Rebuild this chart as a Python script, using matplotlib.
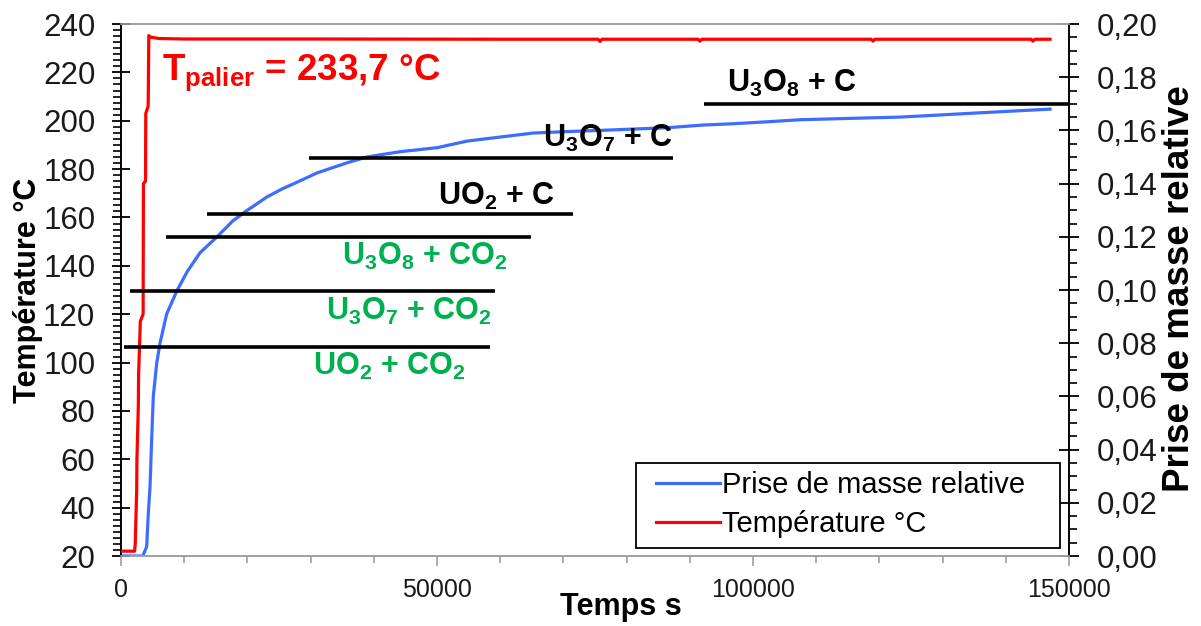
import matplotlib
matplotlib.use("Agg")
import matplotlib.pyplot as plt
from matplotlib.ticker import MultipleLocator, FuncFormatter
from matplotlib.patches import Rectangle

plt.rcParams['font.family'] = ['Liberation Sans', 'DejaVu Sans']
plt.rcParams['mathtext.fontset'] = 'custom'
plt.rcParams['mathtext.rm'] = 'Liberation Sans'
plt.rcParams['mathtext.bf'] = 'Liberation Sans:bold'
plt.rcParams['mathtext.it'] = 'Liberation Sans:italic'

# ---------------- data ----------------
# Temperature (left axis, °C) vs time (s)
temp_t = [0, 2150, 2250, 2480, 2520, 2740, 2780, 3010, 3050, 3500, 3550, 3880, 3920, 4300, 4400,
          4600, 6000, 10000, 30000, 60000, 75500, 75800, 76100, 91300, 91600, 91900,
          118700, 119000, 119300, 144000, 144300, 144600, 147000]
temp_v = [22, 22, 25, 47, 60, 82, 95, 113, 117, 120, 174, 175, 203, 206, 235.2,
          234.6, 234.0, 233.8, 233.8, 233.7, 233.7, 232.8, 233.7, 233.7, 232.9, 233.7,
          233.7, 232.9, 233.7, 233.7, 232.9, 233.7, 233.7]

# Relative mass gain (right axis) vs time (s)
mass_t = [0, 3450, 4060, 4320, 4590, 4850, 5110, 5650, 6170, 7230, 8900, 10500, 12500, 15200, 17700,
          20000, 23100, 25500, 28300, 31000, 33500, 36000, 38900, 41500, 44200, 50000, 54800,
          60000, 65200, 70000, 75800, 81000, 86400, 92000, 96800, 102000, 107400, 115000,
          123300, 135000, 147000]
mass_v = [0, 0, 0.0035, 0.016, 0.026, 0.0436, 0.060, 0.0725, 0.080, 0.091, 0.100, 0.107, 0.114, 0.120, 0.126,
          0.130, 0.135, 0.138, 0.141, 0.144, 0.146, 0.148, 0.150, 0.151, 0.152, 0.1535, 0.156,
          0.1575, 0.159, 0.1595, 0.160, 0.1605, 0.161, 0.162, 0.1625, 0.1632, 0.164, 0.1645,
          0.165, 0.1665, 0.168]

# Phase boundary lines (temperature, start time, end time)
line_temp = [106.4, 129.6, 151.9, 161.4, 184.6, 206.9]
line_start = [475, 1420, 7120, 13610, 29750, 92250]
line_end = [58390, 59180, 64870, 71520, 87340, 150000]

# Phase labels
lab_text = ['U$_\\mathbf{3}$O$_\\mathbf{8}$ + C', 'U$_\\mathbf{3}$O$_\\mathbf{7}$ + C',
            'UO$_\\mathbf{2}$ + C', 'U$_\\mathbf{3}$O$_\\mathbf{8}$ + CO$_\\mathbf{2}$',
            'U$_\\mathbf{3}$O$_\\mathbf{7}$ + CO$_\\mathbf{2}$', 'UO$_\\mathbf{2}$ + CO$_\\mathbf{2}$']
lab_t = [95890, 66770, 50160, 34920, 32440, 30430]
lab_temp = [211.9, 189.1, 165.2, 140.3, 117.6, 94.9]
lab_color = ['black', 'black', 'black', '#00B050', '#00B050', '#00B050']

x_ticks = [0, 50000, 100000, 150000]

# ---------------- figure ----------------
fig = plt.figure(figsize=(12.01, 6.26), dpi=100)
ax = fig.add_axes([121/1201, 1-556/626, (1069-121)/1201, (556-24)/626])
ax2 = ax.twinx()

blue = '#3d6dff'
red = '#ff0000'

ax.set_xlim(0, 150000)
ax.set_ylim(20, 240)
ax2.set_ylim(0, 0.20)

lr, = ax.plot(temp_t, temp_v, color=red, lw=2.3, zorder=3)
lb, = ax2.plot(mass_t, mass_v, color=blue, lw=2.3, zorder=2)

ax.set_zorder(ax2.get_zorder() + 1)
ax.patch.set_visible(False)

ax.hlines(line_temp, line_start, line_end, colors='black', lw=2.6, zorder=4, clip_on=False)

for s, t, v, c in zip(lab_text, lab_t, lab_temp, lab_color):
    ax.text(t, v, s, color=c, fontsize=22, fontweight='bold', ha='left', va='baseline', zorder=5)

ax.text(6490, 216.9, r'T$_\mathbf{palier}$ = 233,7 °C', color=red, fontsize=26.5,
        fontweight='bold', ha='left', va='baseline', zorder=5)

# ticks & spines
grey = '#a0a0a0'
for sp in ['top', 'bottom']:
    ax.spines[sp].set_color(grey)
    ax2.spines[sp].set_color(grey)
ax.spines['left'].set_color('black')
ax2.spines['right'].set_color('black')
for a in (ax, ax2):
    for sp in a.spines.values():
        sp.set_linewidth(1.2)

ax.set_xticks(x_ticks)
ax.xaxis.set_minor_locator(MultipleLocator(10000))
ax.xaxis.set_major_formatter(FuncFormatter(lambda v, p: f'{int(v)}'))
ax.tick_params(axis='x', which='major', direction='out', length=7, width=1.2, color=grey,
               labelsize=18, pad=9, labelcolor='#1a1a1a')
ax.tick_params(axis='x', which='minor', direction='out', length=5, width=1.2, color=grey)

ax.yaxis.set_major_locator(MultipleLocator(20))
ax.yaxis.set_minor_locator(MultipleLocator(2.5))
ax.tick_params(axis='y', which='major', direction='inout', length=13, width=1.3, color='black',
               labelsize=22.5, pad=12, labelcolor='#1a1a1a')
ax.tick_params(axis='y', which='minor', direction='out', length=5.5, width=1.2, color='black')

ax2.yaxis.set_major_locator(MultipleLocator(0.02))
ax2.yaxis.set_minor_locator(MultipleLocator(0.005))
ax2.yaxis.set_major_formatter(FuncFormatter(lambda v, p: f'{v:.2f}'.replace('.', ',')))
ax2.tick_params(axis='y', which='major', direction='inout', length=14, width=1.3, color='black',
                labelsize=22.5, pad=13, labelcolor='#1a1a1a')
ax2.tick_params(axis='y', which='minor', direction='out', length=6, width=1.2, color='black')

ax.set_xlabel('Temps s', fontsize=22, fontweight='bold')
ax.xaxis.set_label_coords(0.527, -0.068)
ax.set_ylabel('Température °C', fontsize=22, fontweight='bold')
ax.yaxis.set_label_coords(-0.082, 0.5)
ax2.set_ylabel('Prise de masse relative', fontsize=26.5, fontweight='bold', rotation=90)
ax2.yaxis.set_label_coords(1.098, 0.503)

# legend frame drawn separately, legend content placed inside
frame = Rectangle(((636-121)/948, (556-548)/532), (1060-636)/948, 85/532,
                  transform=ax.transAxes, facecolor='white', edgecolor='black',
                  lw=1.3, zorder=6)
ax.add_patch(frame)
leg = ax.legend([lb, lr], ['Prise de masse relative', 'Température °C'],
                loc='upper left', bbox_to_anchor=((656-121)/948, (556-471)/532),
                fontsize=21, frameon=False,
                handlelength=2.2, handletextpad=0.05, labelspacing=0.38,
                borderpad=0.0, borderaxespad=0)
leg.set_zorder(7)

fig.savefig('out.png', dpi=100)
